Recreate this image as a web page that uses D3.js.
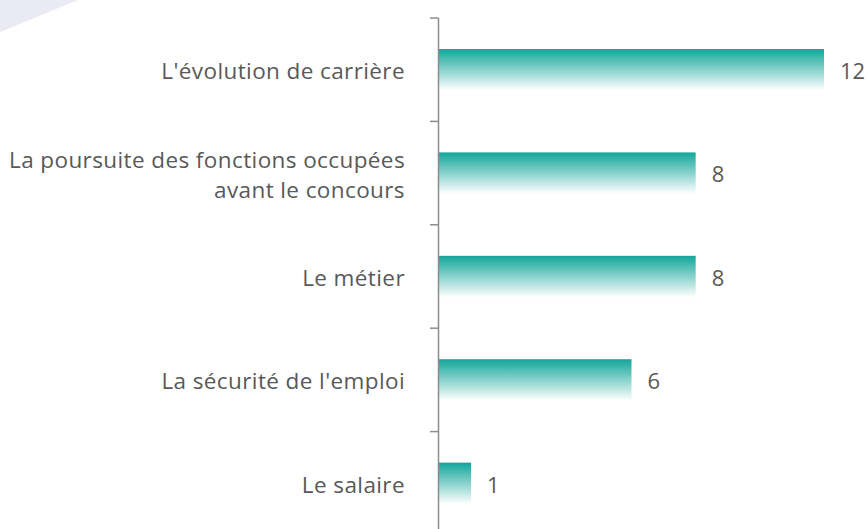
<!DOCTYPE html>
<html>
<head>
<meta charset="utf-8">
<script src="https://cdn.jsdelivr.net/npm/d3@7"></script>
<style>
  body { margin: 0; background: #fff; }
  svg { display: block; }
  text { font-family: "Open Sans", sans-serif; fill: #595959; }
</style>
</head>
<body>
<div id="chart"></div>
<script>
var categories = [
    ["L'évolution de carrière"],
    ["La poursuite des fonctions occupées", "avant le concours"],
    ["Le métier"],
    ["La sécurité de l'emploi"],
    ["Le salaire"]
];
var values = [12, 8, 8, 6, 1];

var width = 868, height = 529;
var svg = d3.select("#chart").append("svg")
    .attr("width", width)
    .attr("height", height);

// pale corner decoration
svg.append("polygon")
    .attr("points", "0,0 78,0 0,32")
    .attr("fill", "#e9eaf3");

var defs = svg.append("defs");
var grad = defs.append("linearGradient")
    .attr("id", "barGrad")
    .attr("x1", 0).attr("y1", 0).attr("x2", 0).attr("y2", 1);
grad.append("stop").attr("offset", "0%").attr("stop-color", "#12a699");
grad.append("stop").attr("offset", "100%").attr("stop-color", "#ffffff");

var idx = d3.range(categories.length);
var y = d3.scaleBand()
    .domain(idx)
    .range([18, 535])
    .paddingInner(0.6)
    .paddingOuter(0.3);

var x = d3.scaleLinear()
    .domain([0, 12])
    .range([439, 824]);

// bars
svg.selectAll(".bar")
    .data(values)
    .enter()
    .append("rect")
    .attr("class", "bar")
    .attr("x", x(0))
    .attr("y", function (d, i) { return y(i); })
    .attr("width", function (d) { return x(d) - x(0); })
    .attr("height", y.bandwidth())
    .attr("fill", "url(#barGrad)");

// axis line and ticks between categories
var gap = (y.step() - y.bandwidth()) / 2;
var tickPos = idx.map(function (i) { return y(i) - gap; });
tickPos.push(y(idx.length - 1) + y.bandwidth() + gap);

svg.append("line")
    .attr("x1", x(0) - 0.5).attr("x2", x(0) - 0.5)
    .attr("y1", tickPos[0]).attr("y2", tickPos[tickPos.length - 1])
    .attr("stroke", "#8c8c8c").attr("stroke-width", 1.5);

svg.selectAll(".tick")
    .data(tickPos)
    .enter()
    .append("line")
    .attr("class", "tick")
    .attr("x1", x(0) - 9).attr("x2", x(0) - 0.5)
    .attr("y1", function (d) { return d; })
    .attr("y2", function (d) { return d; })
    .attr("stroke", "#8c8c8c").attr("stroke-width", 1.5);

// category labels
var lineH = 30;
var labels = svg.selectAll(".cat")
    .data(categories)
    .enter()
    .append("text")
    .attr("class", "cat")
    .attr("text-anchor", "end")
    .style("font-size", "22.5px")
    .style("letter-spacing", "0.4px");
labels.each(function (lines, i) {
    var cy = y(i) + y.bandwidth() / 2;
    var top = cy - (lines.length - 1) * lineH / 2;
    d3.select(this).selectAll("tspan")
        .data(lines)
        .enter()
        .append("tspan")
        .attr("x", 405)
        .attr("y", function (d, j) { return top + j * lineH; })
        .attr("dy", "0.42em")
        .text(function (d) { return d; });
});

// value labels
svg.selectAll(".val")
    .data(values)
    .enter()
    .append("text")
    .attr("class", "val")
    .attr("x", function (d) { return x(d) + 16; })
    .attr("y", function (d, i) { return y(i) + y.bandwidth() / 2; })
    .attr("dy", "0.42em")
    .style("font-size", "22px")
    .text(function (d) { return d; });
</script>
</body>
</html>
